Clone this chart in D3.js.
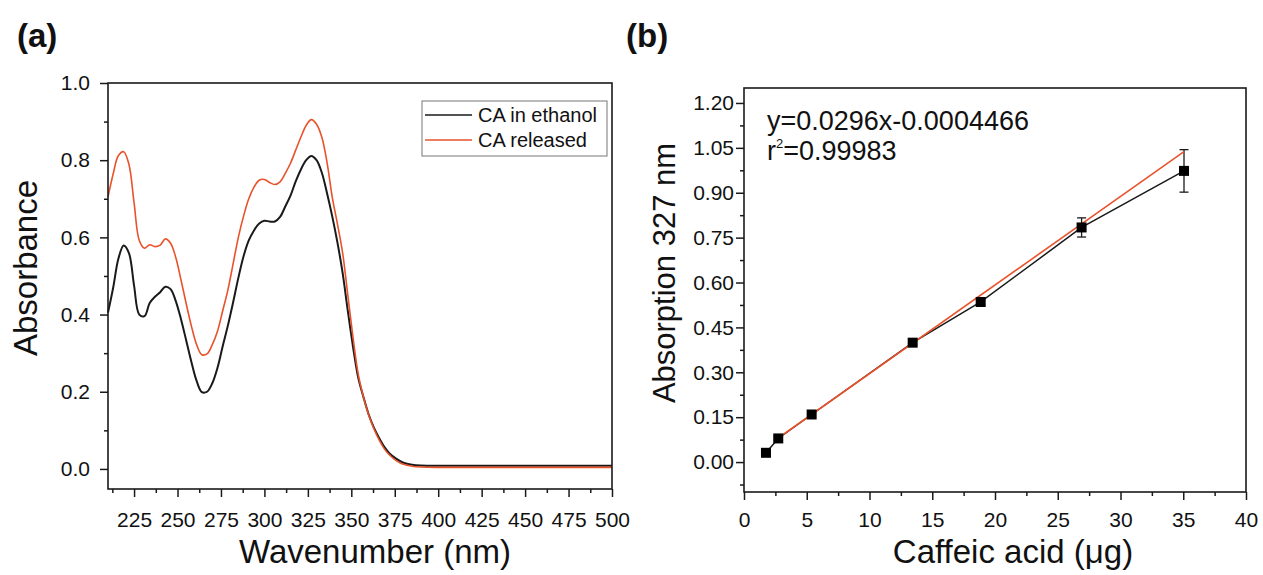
<!DOCTYPE html>
<html>
<head>
<meta charset="utf-8">
<script src="https://cdn.jsdelivr.net/npm/d3@7"></script>
<style>
  body { margin: 0; background: #fff; }
  text { font-family: "Liberation Sans", Arial, sans-serif; fill: #111; }
</style>
</head>
<body>
<div id="chart"></div>
<script>
// ---- data, panel (a): UV-vis spectra ----
var wavelength = [210, 213, 216, 219, 222, 225, 228, 231, 234, 237, 240, 243, 246, 249, 252, 255, 258, 261, 264, 267,
  270, 273, 276, 279, 282, 285, 288, 291, 294, 297, 300, 303, 306, 309, 312, 315, 318, 321, 324, 327,
  330, 333, 336, 339, 342, 345, 348, 351, 354, 357, 360, 363, 366, 369, 372, 376, 380, 385, 390, 400,
  425, 450, 475, 500];
var absEthanol = [0.405, 0.470, 0.545, 0.579, 0.560, 0.475, 0.400, 0.396, 0.430, 0.446, 0.458, 0.472, 0.466, 0.435, 0.388, 0.333, 0.277, 0.228, 0.199, 0.200,
  0.222, 0.262, 0.318, 0.372, 0.432, 0.495, 0.551, 0.592, 0.618, 0.636, 0.643, 0.641, 0.641, 0.653, 0.680, 0.708, 0.745, 0.776, 0.800, 0.811,
  0.800, 0.768, 0.715, 0.655, 0.587, 0.508, 0.409, 0.316, 0.236, 0.186, 0.141, 0.107, 0.080, 0.057, 0.040, 0.026, 0.016, 0.011, 0.009, 0.008,
  0.008, 0.008, 0.008, 0.008];
var absReleased = [0.705, 0.765, 0.812, 0.822, 0.790, 0.690, 0.592, 0.572, 0.581, 0.576, 0.580, 0.596, 0.585, 0.548, 0.490, 0.428, 0.370, 0.322, 0.296, 0.298,
  0.322, 0.357, 0.410, 0.464, 0.532, 0.600, 0.655, 0.700, 0.730, 0.748, 0.750, 0.742, 0.737, 0.744, 0.766, 0.792, 0.826, 0.860, 0.890, 0.905,
  0.893, 0.860, 0.795, 0.705, 0.635, 0.560, 0.450, 0.340, 0.245, 0.186, 0.140, 0.104, 0.075, 0.052, 0.036, 0.021, 0.012, 0.007, 0.005, 0.004,
  0.004, 0.004, 0.004, 0.004];
var seriesNames = ["CA in ethanol", "CA released"];
var xTicksA = [225, 250, 275, 300, 325, 350, 375, 400, 425, 450, 475, 500];
var yTicksA = [0.0, 0.2, 0.4, 0.6, 0.8, 1.0];

// ---- data, panel (b): calibration ----
var caffeicUg = [1.75, 2.73, 5.39, 13.44, 18.86, 26.9, 35.06];
var absorb327 = [0.031, 0.079, 0.159, 0.399, 0.535, 0.784, 0.973];
var absorbErr = [0.004, 0.005, 0.005, 0.005, 0.014, 0.032, 0.071];
var fitSlope = 0.0296, fitIntercept = -0.0004466;
var xTicksB = [0, 5, 10, 15, 20, 25, 30, 35, 40];
var yTicksB = [0.00, 0.15, 0.30, 0.45, 0.60, 0.75, 0.90, 1.05, 1.20];

var orange = "#e8532b";
var ink = "#1a1a1a";

var svg = d3.select("#chart").append("svg")
  .attr("width", 1263)
  .attr("height", 575);

// draws major + minor ticks for one axis
function drawAxis(g, axisFn, scale, major, minor, fmt, pad) {
  g.append("g").call(axisFn(scale).tickValues(minor).tickSize(4).tickFormat(""))
    .call(s => s.select(".domain").remove());
  var a = g.append("g").call(axisFn(scale).tickValues(major).tickSize(8).tickPadding(pad).tickFormat(fmt));
  a.select(".domain").remove();
  a.selectAll("text").style("font-size", "21px").attr("fill", "#111");
  g.selectAll("line").attr("stroke", ink).attr("stroke-width", 1.5);
  return g;
}

// ================= panel (a) =================
var A = { left: 108, top: 83, w: 504, h: 406 };
var gA = svg.append("g").attr("transform", `translate(${A.left},${A.top})`);

var xA = d3.scaleLinear().domain([210, 500]).range([0, A.w]);
var yA = d3.scaleLinear().domain([-0.052, 1.0]).range([A.h, 0]);

var minorXA = d3.range(212.5, 500, 25);
var minorYA = [0.1, 0.3, 0.5, 0.7, 0.9];

drawAxis(gA.append("g").attr("transform", `translate(0,${A.h})`), d3.axisBottom, xA, xTicksA, minorXA, d3.format("d"), 15);
drawAxis(gA.append("g"), d3.axisLeft, yA, yTicksA, minorYA, d3.format(".1f"), 10);

var lineA = d3.line().curve(d3.curveCatmullRom.alpha(0.5));
var specs = [absEthanol, absReleased];
var specColors = [ink, orange];
specs.forEach(function (vals, k) {
  gA.append("path")
    .attr("d", lineA(wavelength.map((w, i) => [xA(w), yA(vals[i])])))
    .attr("fill", "none")
    .attr("stroke", specColors[k])
    .attr("stroke-width", k === 0 ? 2 : 1.6);
});

gA.append("rect").attr("width", A.w).attr("height", A.h)
  .attr("fill", "none").attr("stroke", ink).attr("stroke-width", 1.6);

// legend
var leg = gA.append("g").attr("transform", "translate(314,18)");
leg.append("rect").attr("width", 185).attr("height", 55)
  .attr("fill", "#fff").attr("stroke", "#777").attr("stroke-width", 1);
seriesNames.forEach(function (name, i) {
  leg.append("line").attr("x1", 3).attr("x2", 50).attr("y1", 14 + i * 25).attr("y2", 14 + i * 25)
    .attr("stroke", specColors[i]).attr("stroke-width", 1.6);
  leg.append("text").attr("x", 56).attr("y", 21 + i * 25)
    .style("font-size", "20px").text(name);
});

svg.append("text").attr("x", 375).attr("y", 563).attr("text-anchor", "middle")
  .style("font-size", "33px").text("Wavenumber (nm)");
svg.append("text").attr("transform", "translate(37,268) rotate(-90)").attr("text-anchor", "middle")
  .style("font-size", "33px").text("Absorbance");
svg.append("text").attr("x", 17).attr("y", 47).style("font-size", "33px").style("font-weight", "bold").text("(a)");

// ================= panel (b) =================
var B = { left: 744, top: 88, w: 502, h: 404 };
var gB = svg.append("g").attr("transform", `translate(${B.left},${B.top})`);

var xB = d3.scaleLinear().domain([0, 40]).range([0, B.w]);
var yB = d3.scaleLinear().domain([-0.1, 1.25]).range([B.h, 0]);

var minorXB = d3.range(2.5, 40, 5);
var minorYB = d3.range(-0.075, 1.2, 0.15);

drawAxis(gB.append("g").attr("transform", `translate(0,${B.h})`), d3.axisBottom, xB, xTicksB, minorXB, d3.format("d"), 12);
drawAxis(gB.append("g"), d3.axisLeft, yB, yTicksB, minorYB, d3.format(".2f"), 2);

// connecting line through the points
gB.append("path")
  .attr("d", d3.line()(caffeicUg.map((x, i) => [xB(x), yB(absorb327[i])])))
  .attr("fill", "none").attr("stroke", ink).attr("stroke-width", 1.5);

// error bars
var eb = gB.selectAll(".err").data(caffeicUg).enter().append("g").attr("class", "err");
eb.append("line")
  .attr("x1", d => xB(d)).attr("x2", d => xB(d))
  .attr("y1", (d, i) => yB(absorb327[i] - absorbErr[i]))
  .attr("y2", (d, i) => yB(absorb327[i] + absorbErr[i]));
[-1, 1].forEach(function (sgn) {
  eb.append("line")
    .attr("x1", d => xB(d) - 4.5).attr("x2", d => xB(d) + 4.5)
    .attr("y1", (d, i) => yB(absorb327[i] + sgn * absorbErr[i]))
    .attr("y2", (d, i) => yB(absorb327[i] + sgn * absorbErr[i]));
});
eb.selectAll("line").attr("stroke", ink).attr("stroke-width", 1.3);

// linear fit
var fitX = [caffeicUg[1], caffeicUg[caffeicUg.length - 1]];
gB.append("path")
  .attr("d", d3.line()(fitX.map(x => [xB(x), yB(fitSlope * x + fitIntercept)])))
  .attr("fill", "none").attr("stroke", orange).attr("stroke-width", 1.6);

// square markers
gB.selectAll(".pt").data(caffeicUg).enter().append("rect")
  .attr("x", d => xB(d) - 5).attr("y", (d, i) => yB(absorb327[i]) - 5)
  .attr("width", 10).attr("height", 10).attr("fill", "#000");

gB.append("rect").attr("width", B.w).attr("height", B.h)
  .attr("fill", "none").attr("stroke", ink).attr("stroke-width", 1.6);

// equation
var eq = gB.append("g").style("font-size", "27px");
eq.append("text").attr("x", 23).attr("y", 42).text("y=0.0296x-0.0004466");
var r2 = eq.append("text").attr("x", 23).attr("y", 72);
r2.append("tspan").text("r");
r2.append("tspan").attr("dy", -12).style("font-size", "13px").text("2");
r2.append("tspan").attr("dy", 12).text("=0.99983");

svg.append("text").attr("x", 1013).attr("y", 563).attr("text-anchor", "middle")
  .style("font-size", "33px").text("Caffeic acid (\u03bcg)");
svg.append("text").attr("transform", "translate(675,273) rotate(-90)").attr("text-anchor", "middle")
  .style("font-size", "31px").text("Absorption 327 nm");
svg.append("text").attr("x", 626).attr("y", 47).style("font-size", "33px").style("font-weight", "bold").text("(b)");
</script>
</body>
</html>
